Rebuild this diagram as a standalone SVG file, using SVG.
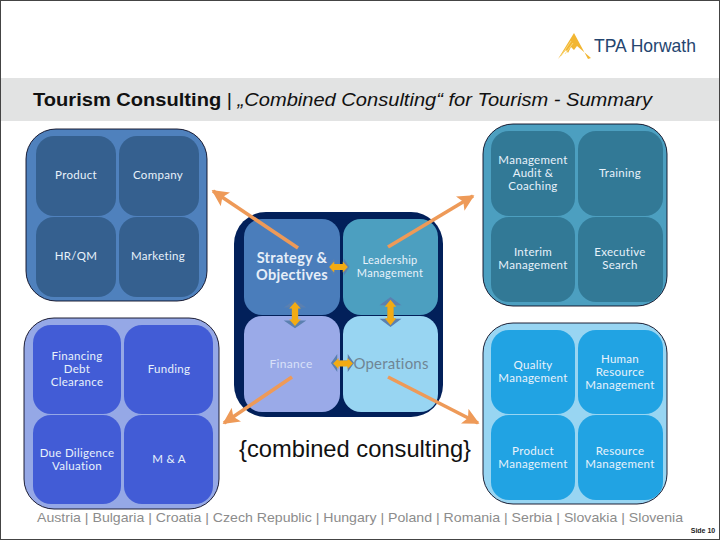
<svg xmlns="http://www.w3.org/2000/svg" width="720" height="540" viewBox="0 0 720 540">
<style>
text{font-family:"Lato","Open Sans","Liberation Sans",sans-serif;text-anchor:middle}
.lbl{font-size:11.5px;fill:#e8f2fb;letter-spacing:.3px}
.big{font-size:14.5px;font-weight:700;fill:#e6eef8;letter-spacing:.3px}
.panel{stroke:#0a0a20;stroke-width:.9}
.arrow{stroke:#ee9a58;stroke-width:3.6;fill:none;marker-end:url(#oh)}
.ar{font-family:"Liberation Sans",Arial,sans-serif}
</style>
<defs>
<marker id="oh" viewBox="0 0 10 10" refX="9" refY="5" markerWidth="4.6" markerHeight="4.6" orient="auto"><path d="M0 0L10 5L0 10L2.2 5Z" fill="#ee9a58"/></marker>
<path id="dv" d="M0-11L5.5-5H3V5H5.5L0 11L-5.5 5H-3V-5H-5.5Z"/>
<path id="dn" d="M0-11L5.5-5H1.5V5H5.5L0 11L-5.5 5H-1.5V-5H-5.5Z"/>
</defs>
<rect width="720" height="540" fill="#fff"/>
<rect x=".5" y=".5" width="719" height="539" fill="none" stroke="#444"/>
<g id="logo">
<path d="M574 33L558 59L566 50L568 53L571 47L574 50L577 46L591 58L588 59Z" fill="#f2b632"/>
<path d="M561 56L571 41M565 54L573 43" stroke="#fbe08a" stroke-width=".8" fill="none"/>
<text x="645" y="52" class="ar" style="font-size:19px;fill:#25456f" textLength="102" lengthAdjust="spacingAndGlyphs">TPA Horwath</text>
</g>
<g id="title">
<rect y="78" x="1" width="718" height="43" fill="#e2e3e3"/>
<text x="33" y="106" class="ar" style="text-anchor:start;font-size:19px;fill:#111" textLength="619" lengthAdjust="spacingAndGlyphs"><tspan font-weight="700">Tourism Consulting</tspan> | <tspan font-style="italic">„Combined Consulting“ for Tourism - Summary</tspan></text>
</g>
<g id="panel-top-left">
<rect class="panel" x="26" y="129" width="181" height="172" rx="30" fill="#4f81bd"/>
<g fill="#35608f">
<rect x="36" y="136" width="80" height="80" rx="18"/><rect x="119" y="136" width="80" height="80" rx="18"/>
<rect x="36" y="217" width="80" height="80" rx="18"/><rect x="119" y="217" width="80" height="80" rx="18"/>
</g>
<text class="lbl" x="76" y="179">Product</text><text class="lbl" x="158" y="179">Company</text>
<text class="lbl" x="76" y="260">HR/QM</text><text class="lbl" x="158" y="260">Marketing</text>
</g>
<g id="panel-bottom-left">
<rect class="panel" x="24" y="318" width="195" height="191" rx="30" fill="#95a8e6"/>
<g fill="#425cd6">
<rect x="33" y="325" width="88" height="89" rx="18"/><rect x="124" y="325" width="89" height="89" rx="18"/>
<rect x="33" y="415" width="88" height="89" rx="18"/><rect x="124" y="415" width="89" height="89" rx="18"/>
</g>
<text class="lbl" x="77" y="360">Financing</text><text class="lbl" x="77" y="373">Debt</text><text class="lbl" x="77" y="386">Clearance</text>
<text class="lbl" x="169" y="373">Funding</text>
<text class="lbl" x="77" y="457">Due Diligence</text><text class="lbl" x="77" y="470">Valuation</text>
<text class="lbl" x="169" y="463">M &amp; A</text>
</g>
<g id="panel-center">
<rect x="234" y="212" width="209" height="205" rx="32" fill="#02205a"/>
<rect x="244" y="219" width="96" height="96" rx="18" fill="#4a7dbb"/>
<rect x="343" y="219" width="95" height="96" rx="18" fill="#4c9fc0"/>
<rect x="244" y="316" width="96" height="96" rx="18" fill="#9aaae8"/>
<rect x="343" y="316" width="95" height="96" rx="18" fill="#98d5f2"/>
<text class="big" x="292" y="263">Strategy &amp;</text><text class="big" x="292" y="280">Objectives</text>
<text class="lbl" x="390" y="264" style="font-size:11px">Leadership</text><text class="lbl" x="390" y="277" style="font-size:11px">Management</text>
<text class="lbl" x="291" y="368" style="font-size:12px;fill:#d8e0f8">Finance</text>
<text x="391" y="369" style="font-size:15px;fill:#6f8595;letter-spacing:.2px">Operations</text>
<text x="355" y="457" class="ar" style="font-size:24px;fill:#111" textLength="232" lengthAdjust="spacingAndGlyphs">{combined consulting}</text>
</g>
<g id="connectors">
<line class="arrow" x1="298" y1="248" x2="213" y2="191"/>
<line class="arrow" x1="388" y1="247" x2="473" y2="196"/>
<line class="arrow" x1="292" y1="377" x2="224" y2="423"/>
<line class="arrow" x1="388" y1="377" x2="478" y2="423"/>
<g fill="#5b80b0">
<use href="#dn" transform="translate(295 314) scale(2.05 1.3)"/>
<use href="#dn" transform="translate(390.5 312) scale(2 1.36)"/>
<use href="#dn" transform="translate(339 267) rotate(90) scale(1.6 .95)"/>
<use href="#dn" transform="translate(342.5 363) rotate(90) scale(1.65 1.05)"/>
</g>
<g fill="#f2ab14">
<use href="#dv" transform="translate(295 314) scale(1.05 1.1)"/>
<use href="#dv" transform="translate(390.5 312.5) scale(1.05 1.15)"/>
<use href="#dv" transform="translate(338.5 267) rotate(90) scale(1 .85)"/>
<use href="#dv" transform="translate(343 363.5) rotate(90) scale(1 .9)"/>
</g>
</g>
<g id="panel-top-right">
<rect class="panel" x="483" y="124" width="184" height="182" rx="30" fill="#4c9fc0"/>
<g fill="#327996">
<rect x="491" y="131" width="84" height="85" rx="18"/><rect x="578" y="131" width="85" height="85" rx="18"/>
<rect x="491" y="217" width="84" height="85" rx="18"/><rect x="578" y="217" width="85" height="85" rx="18"/>
</g>
<text class="lbl" x="533" y="164">Management</text><text class="lbl" x="533" y="177">Audit &amp;</text><text class="lbl" x="533" y="190">Coaching</text>
<text class="lbl" x="620" y="177">Training</text>
<text class="lbl" x="533" y="256">Interim</text><text class="lbl" x="533" y="269">Management</text>
<text class="lbl" x="620" y="256">Executive</text><text class="lbl" x="620" y="269">Search</text>
</g>
<g id="panel-bottom-right">
<rect class="panel" x="483" y="323" width="184" height="181" rx="30" fill="#98d5f2"/>
<g fill="#21a3e3">
<rect x="491" y="330" width="84" height="84" rx="18"/><rect x="578" y="330" width="85" height="84" rx="18"/>
<rect x="491" y="415" width="84" height="85" rx="18"/><rect x="578" y="415" width="85" height="85" rx="18"/>
</g>
<text class="lbl" x="533" y="369">Quality</text><text class="lbl" x="533" y="382">Management</text>
<text class="lbl" x="620" y="363">Human</text><text class="lbl" x="620" y="376">Resource</text><text class="lbl" x="620" y="389">Management</text>
<text class="lbl" x="533" y="455">Product</text><text class="lbl" x="533" y="468">Management</text>
<text class="lbl" x="620" y="455">Resource</text><text class="lbl" x="620" y="468">Management</text>
</g>
<g id="footer">
<text x="360" y="522" class="ar" style="font-size:13px;fill:#8c8c8c" textLength="646" lengthAdjust="spacingAndGlyphs">Austria | Bulgaria | Croatia | Czech Republic | Hungary | Poland | Romania | Serbia | Slovakia | Slovenia</text>
<text x="703" y="533" class="ar" style="font-size:7px;font-weight:700;fill:#222">Side 10</text>
</g>
</svg>
